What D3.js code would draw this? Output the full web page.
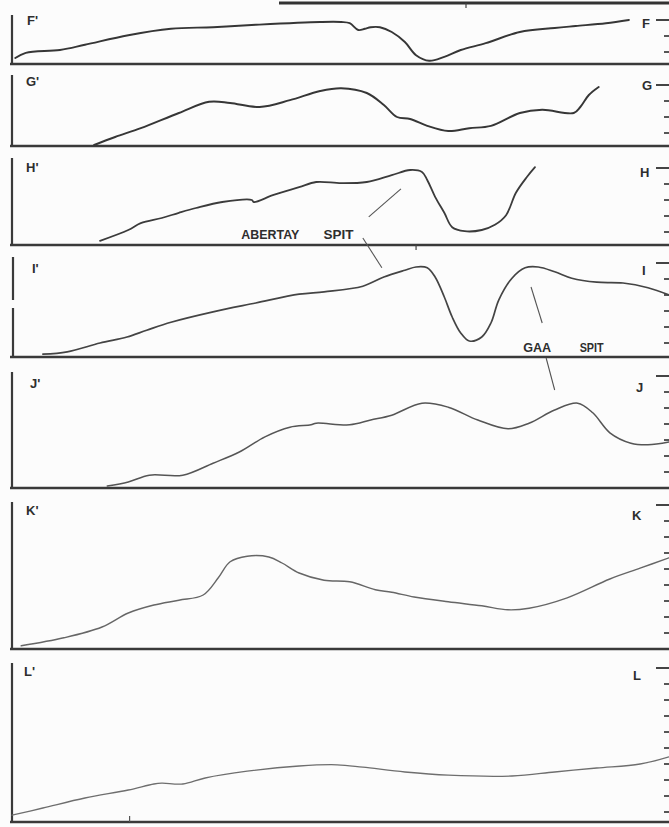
<!DOCTYPE html>
<html>
<head>
<meta charset="utf-8">
<script src="https://cdn.jsdelivr.net/npm/d3@7"></script>
<style>
  html, body { margin: 0; padding: 0; background: #fcfcfc; }
  svg { display: block; }
  .lbl { font-family: "Liberation Sans Narrow", "Liberation Sans", Arial, sans-serif; font-weight: bold; fill: #2e2e2e; }
</style>
</head>
<body>
<svg id="chart" width="669" height="827"></svg>
<script>
// ---------- DATA (distance along profile 0-100, depth in m below datum) ----------
const profileNames = ["F", "G", "H", "I", "J", "K", "L"];

const distF  = [0.5, 2.1, 7.3, 11.1, 17.7, 24.2, 30.6, 37.1, 46.9, 50.1, 51.4, 52.7, 53.7, 54.6, 56.0, 57.8, 59.8, 61.5, 63.5, 65.8, 68.3, 72.1, 77.3, 82.6, 85.8, 90.4, 93.9];
const depthF = [4.75, 4.1, 3.75, 3.1, 1.9, 1.1, 0.9, 0.6, 0.25, 0.25, 0.4, 1.25, 1.1, 0.9, 0.9, 1.5, 2.75, 4.4, 5.1, 4.6, 3.75, 2.9, 1.5, 1.0, 0.75, 0.4, 0.0];

const distG  = [12.5, 15.7, 19.6, 25.4, 30.0, 33.2, 37.7, 42.3, 46.9, 50.1, 54.0, 56.6, 58.6, 60.6, 63.2, 66.4, 69.6, 72.9, 77.3, 80.7, 85.5, 86.5, 87.8, 89.3];
const depthG = [7.5, 6.5, 5.4, 3.5, 2.1, 2.25, 2.75, 1.9, 0.75, 0.4, 1.0, 2.5, 4.0, 4.25, 5.1, 5.75, 5.4, 5.1, 3.5, 3.1, 3.5, 2.75, 1.25, 0.25];

const distH  = [13.4, 17.7, 19.6, 22.8, 25.4, 28.0, 32.0, 36.5, 36.8, 39.7, 43.7, 46.3, 50.1, 54.0, 57.8, 60.6, 62.4, 63.2, 64.4, 65.8, 67.0, 68.9, 71.5, 73.5, 75.2, 76.7, 78.4, 79.6];
const depthH = [9.1, 7.75, 6.9, 6.25, 5.6, 5.0, 4.25, 4.0, 4.25, 3.4, 2.4, 1.75, 1.9, 1.75, 0.9, 0.25, 0.5, 1.5, 3.6, 5.6, 7.4, 7.9, 7.75, 7.1, 5.9, 3.1, 1.1, -0.1];

const distI  = [4.7, 8.4, 13.4, 17.5, 20.5, 24.2, 30.6, 37.1, 43.7, 47.5, 53.4, 56.6, 59.8, 61.5, 63.2, 64.4, 65.8, 67.0, 68.3, 69.6, 71.5, 72.9, 74.1, 76.1, 78.1, 80.1, 82.6, 85.2, 89.0, 93.0, 96.8, 100];
const depthI = [11.4, 11.1, 10.0, 9.25, 8.4, 7.4, 6.1, 5.0, 3.9, 3.6, 2.9, 1.75, 0.9, 0.5, 0.6, 1.75, 4.25, 6.75, 8.75, 9.75, 9.25, 7.5, 4.6, 1.9, 0.6, 0.5, 1.1, 1.9, 2.4, 2.5, 3.1, 4.0];

const distJ  = [14.5, 17.7, 20.9, 26.0, 30.6, 34.6, 38.5, 42.3, 45.5, 46.3, 51.4, 54.6, 57.8, 62.4, 66.4, 70.9, 75.5, 78.7, 82.6, 86.1, 88.4, 91.0, 94.2, 96.8, 100];
const depthJ = [13.75, 13.25, 12.4, 12.4, 10.9, 9.5, 7.6, 6.4, 6.1, 5.9, 6.1, 5.5, 4.9, 3.4, 3.9, 5.5, 6.6, 5.9, 4.25, 3.4, 4.6, 7.1, 8.4, 8.6, 8.25];

const distK  = [1.4, 7.9, 13.7, 17.7, 21.6, 25.4, 29.1, 31.4, 33.2, 35.8, 39.1, 41.1, 43.7, 47.5, 51.4, 55.3, 57.8, 61.2, 66.4, 71.5, 75.5, 78.7, 84.5, 91.0, 95.6, 100];
const depthK = [17.6, 16.6, 15.25, 13.5, 12.5, 11.9, 11.25, 9.1, 7.1, 6.4, 6.5, 7.25, 8.5, 9.4, 9.6, 10.6, 10.9, 11.5, 12.1, 12.6, 13.1, 12.9, 11.6, 9.25, 7.9, 6.6];

const distL  = [0, 4.7, 11.1, 17.7, 21.6, 22.8, 26.0, 29.4, 35.8, 43.7, 49.5, 53.4, 59.8, 66.4, 76.1, 82.6, 89.0, 95.6, 100];
const depthL = [18.4, 17.5, 16.25, 15.25, 14.5, 14.4, 14.5, 13.75, 12.9, 12.25, 12.1, 12.4, 13.0, 13.4, 13.5, 13.0, 12.5, 12.0, 11.1];

// Annotations: text, panel, dist, depth
const annoText   = ["ABERTAY", "SPIT", "GAA", "SPIT"];
const annoPanel  = ["H", "H", "I", "I"];
const annoDist   = [34.9, 47.4, 77.8, 86.4];
const annoDepth  = [8.9, 8.9, 11.1, 11.1];
// Leader lines: panel, dist, depth at each end
const leadPanel0 = ["H", "H", "I", "J"];
const leadDist0  = [54.3, 53.4, 79.0, 81.3];
const leadDepth0 = [6.1, 8.75, 3.0, -2.25];
const leadPanel1 = ["H", "I", "I", "J"];
const leadDist1  = [59.2, 56.3, 80.7, 82.6];
const leadDepth1 = [2.6, 0.6, 7.5, 1.75];

const series = {F:[distF, depthF], G:[distG, depthG], H:[distH, depthH], I:[distI, depthI],
                J:[distJ, depthJ], K:[distK, depthK], L:[distL, depthL]};

// ---------- LAYOUT ----------
const W = 669, H = 827;
const layout = {
  F: {top: 15,  datum: 20,  base: 64,  lx: 27, ly: 25,  rx: 642, ry: 28,  col: "#363636", sw: 1.9},
  G: {top: 75,  datum: 85,  base: 146, lx: 26, ly: 86,  rx: 642, ry: 90,  col: "#363636", sw: 1.9},
  H: {top: 158, datum: 168, base: 245, lx: 26, ly: 172, rx: 640, ry: 177, col: "#3b3b3b", sw: 1.8},
  I: {top: 257, datum: 263, base: 357, lx: 32, ly: 273, rx: 642, ry: 275, col: "#444", sw: 1.7},
  J: {top: 372, datum: 376, base: 488, lx: 30, ly: 388, rx: 636, ry: 392, col: "#555", sw: 1.5},
  K: {top: 502, datum: 505, base: 649, lx: 26, ly: 515, rx: 632, ry: 520, col: "#666", sw: 1.4},
  L: {top: 663, datum: 668, base: 822, lx: 24, ly: 676, rx: 633, ry: 680, col: "#6e6e6e", sw: 1.3}
};
const annoLen = [58, 30, 28, 24];
const PX_PER_M = 8;

const svg = d3.select("#chart");
const x = d3.scaleLinear().domain([0, 100]).range([12, 669]);

const yScales = {};
profileNames.forEach(p => {
  const L = layout[p];
  const maxD = (L.base - L.datum) / PX_PER_M;
  yScales[p] = d3.scaleLinear().domain([0, maxD]).range([L.datum, L.base]);
});

// top line (baseline of previous profile)
svg.append("line").attr("x1", 279).attr("x2", W).attr("y1", 3).attr("y2", 3)
  .attr("stroke", "#333").attr("stroke-width", 3);
svg.append("line").attr("x1", 466).attr("x2", 466).attr("y1", 3).attr("y2", 8)
  .attr("stroke", "#444").attr("stroke-width", 1.2);

const line = d3.line().curve(d3.curveCatmullRom.alpha(0.5));

profileNames.forEach(p => {
  const L = layout[p];
  const y = yScales[p];
  const maxD = y.domain()[1];
  const g = svg.append("g");

  g.append("line").attr("x1", 10).attr("x2", W).attr("y1", y(maxD)).attr("y2", y(maxD))
    .attr("stroke", "#3a3a3a").attr("stroke-width", 2.6);

  if (p === "I") {
    g.append("line").attr("x1", 13).attr("x2", 13).attr("y1", L.top).attr("y2", 300)
      .attr("stroke", "#3a3a3a").attr("stroke-width", 2.2);
    g.append("line").attr("x1", 13).attr("x2", 13).attr("y1", 308).attr("y2", y(maxD))
      .attr("stroke", "#3a3a3a").attr("stroke-width", 2.2);
  } else {
    g.append("line").attr("x1", 12).attr("x2", 12).attr("y1", L.top).attr("y2", y(maxD))
      .attr("stroke", "#3a3a3a").attr("stroke-width", 2.2);
  }

  const ticks = d3.range(0, maxD - 0.6, 2);
  g.selectAll("line.tk").data(ticks).join("line").attr("class", "tk")
    .attr("x1", d => d === 0 ? 656 : 664).attr("x2", W)
    .attr("y1", d => y(d)).attr("y2", d => y(d))
    .attr("stroke", "#444").attr("stroke-width", d => d === 0 ? 2 : 1.8);

  g.append("text").attr("class", "lbl").attr("x", L.lx).attr("y", L.ly)
    .attr("font-size", 13).text(p + "'");
  g.append("text").attr("class", "lbl").attr("x", L.rx).attr("y", L.ry)
    .attr("font-size", 13).text(p);

  const [ds, zs] = series[p];
  const pts = ds.map((d, i) => [x(d), y(zs[i])]);
  g.append("path").attr("d", line(pts)).attr("fill", "none")
    .attr("stroke", L.col).attr("stroke-width", L.sw)
    .attr("stroke-linejoin", "round").attr("stroke-linecap", "round");
});

svg.append("line").attr("x1", x(61.5)).attr("x2", x(61.5))
  .attr("y1", yScales.H(yScales.H.domain()[1])).attr("y2", yScales.H(yScales.H.domain()[1]) + 5)
  .attr("stroke", "#444").attr("stroke-width", 1.2);
svg.append("line").attr("x1", x(17.9)).attr("x2", x(17.9))
  .attr("y1", yScales.L(yScales.L.domain()[1])).attr("y2", yScales.L(yScales.L.domain()[1]) - 6)
  .attr("stroke", "#555").attr("stroke-width", 1.2);

annoText.forEach((t, i) => {
  svg.append("text").attr("class", "lbl")
    .attr("x", x(annoDist[i])).attr("y", yScales[annoPanel[i]](annoDepth[i]))
    .attr("font-size", 13.5)
    .attr("textLength", annoLen[i]).attr("lengthAdjust", "spacingAndGlyphs")
    .text(t);
});
leadDist0.forEach((d, i) => {
  svg.append("line")
    .attr("x1", x(d)).attr("y1", yScales[leadPanel0[i]](leadDepth0[i]))
    .attr("x2", x(leadDist1[i])).attr("y2", yScales[leadPanel1[i]](leadDepth1[i]))
    .attr("stroke", "#555").attr("stroke-width", 1.1);
});
</script>
</body>
</html>
